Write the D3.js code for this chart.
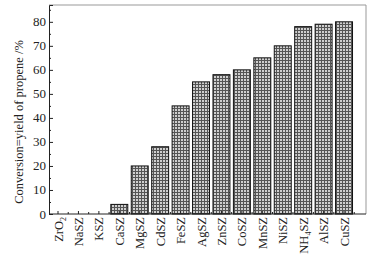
<!DOCTYPE html>
<html>
<head>
  <meta charset="utf-8">
  <title>Conversion yield of propene</title>
  <script src="https://d3js.org/d3.v7.min.js"></script>
  <style>
    body { margin: 0; overflow: hidden; background: #fff; }
    svg { display: block; }
    text { font-family: "Liberation Serif", "DejaVu Serif", serif; fill: #222; }
  </style>
</head>
<body>
  <svg width="387" height="256"></svg>

  <script>
    // data
    const catalysts = ["ZrO2", "NaSZ", "KSZ", "CaSZ", "MgSZ", "CdSZ", "FeSZ", "AgSZ",
                       "ZnSZ", "CoSZ", "MnSZ", "NiSZ", "NH4SZ", "AlSZ", "CuSZ"];
    const yields = [0, 0, 0, 4, 20, 28, 45, 55, 58, 60, 65, 70, 78, 79, 80];
    const yTicks = [0, 10, 20, 30, 40, 50, 60, 70, 80];

    const svg = d3.select("svg");

    const plotL = 49, plotR = 366, plotT = 5, plotB = 214;

    const x = d3.scaleBand()
      .domain(catalysts)
      .range([47.8, 47.8 + 15 * 20.43])
      .paddingInner(0.17)
      .paddingOuter(0.085);

    const y = d3.scaleLinear()
      .domain([0, 87])
      .range([plotB, plotT]);

    // 网格填充
    const defs = svg.append("defs");
    const pat = defs.append("pattern")
      .attr("id", "grid")
      .attr("patternUnits", "userSpaceOnUse")
      .attr("width", 3)
      .attr("height", 3);
    pat.append("rect").attr("width", 3).attr("height", 3).attr("fill", "#cfcfcf");
    pat.append("path")
      .attr("d", "M0,0.5H3M0.5,0V3")
      .attr("stroke", "#555")
      .attr("stroke-width", 1);

    // frame (top/right light)
    svg.append("path")
      .attr("d", `M${plotL},${plotT}H${plotR}V${plotB}`)
      .attr("fill", "none")
      .attr("stroke", "#999")
      .attr("stroke-width", 1);

    // bars
    svg.append("g")
      .selectAll("rect")
      .data(catalysts)
      .join("rect")
      .attr("x", d => x(d))
      .attr("y", (d, i) => y(yields[i]))
      .attr("width", x.bandwidth())
      .attr("height", (d, i) => plotB - y(yields[i]))
      .attr("fill", "url(#grid)")
      .attr("stroke", (d, i) => yields[i] > 0 ? "#111" : "none")
      .attr("stroke-width", 1);

    // y axis
    const yAxis = svg.append("g")
      .attr("transform", `translate(${plotL},0)`)
      .call(d3.axisRight(y).tickValues(yTicks).tickSize(4).tickFormat(""));
    yAxis.select(".domain").attr("stroke", "#222");
    yAxis.selectAll("line").attr("stroke", "#222");

    svg.append("g")
      .attr("transform", `translate(${plotL},0)`)
      .call(d3.axisRight(y).tickValues(d3.range(5, 86, 10)).tickSize(2).tickFormat(""))
      .call(g => g.select(".domain").remove())
      .selectAll("line").attr("stroke", "#222");

    svg.append("g")
      .selectAll("text")
      .data(yTicks)
      .join("text")
      .attr("x", plotL - 3)
      .attr("y", d => y(d) + 4.5)
      .attr("text-anchor", "end")
      .attr("font-size", 13)
      .text(d => d);

    // x axis
    const xg = svg.append("g");
    xg.append("line")
      .attr("x1", plotL).attr("x2", plotR)
      .attr("y1", plotB).attr("y2", plotB)
      .attr("stroke", "#222");
    const tickXs = [];
    catalysts.forEach(c => {
      tickXs.push(x(c) + x.bandwidth() / 2);
      tickXs.push(x(c) + x.bandwidth() / 2 + x.step() / 2);
    });
    xg.selectAll(".tk")
      .data(tickXs)
      .join("line")
      .attr("x1", d => d).attr("x2", d => d)
      .attr("y1", plotB).attr("y2", (d, i) => plotB - (i % 2 ? 2 : 3))
      .attr("stroke", "#222");

    // x labels
    const labels = svg.append("g")
      .selectAll("text")
      .data(catalysts)
      .join("text")
      .attr("transform", d => `translate(${x(d) + x.bandwidth() / 2 + 4.5},${plotB + 3}) rotate(-90)`)
      .attr("text-anchor", "end")
      .attr("font-size", 12.5);
    labels.each(function (d) {
      const t = d3.select(this);
      const m = d.match(/^([A-Za-z]+?)(\d)(.*)$/);
      if (m) {
        t.append("tspan").text(m[1]);
        t.append("tspan").attr("font-size", 8).attr("dy", 3).text(m[2]);
        t.append("tspan").attr("dy", -3).text(m[3]);
      } else {
        t.text(d);
      }
    });

    // y label
    svg.append("text")
      .attr("transform", `translate(23,122) rotate(-90)`)
      .attr("text-anchor", "middle")
      .attr("font-size", 12.5)
      .text("Conversion=yield of propene /%");
  </script>
</body>
</html>
